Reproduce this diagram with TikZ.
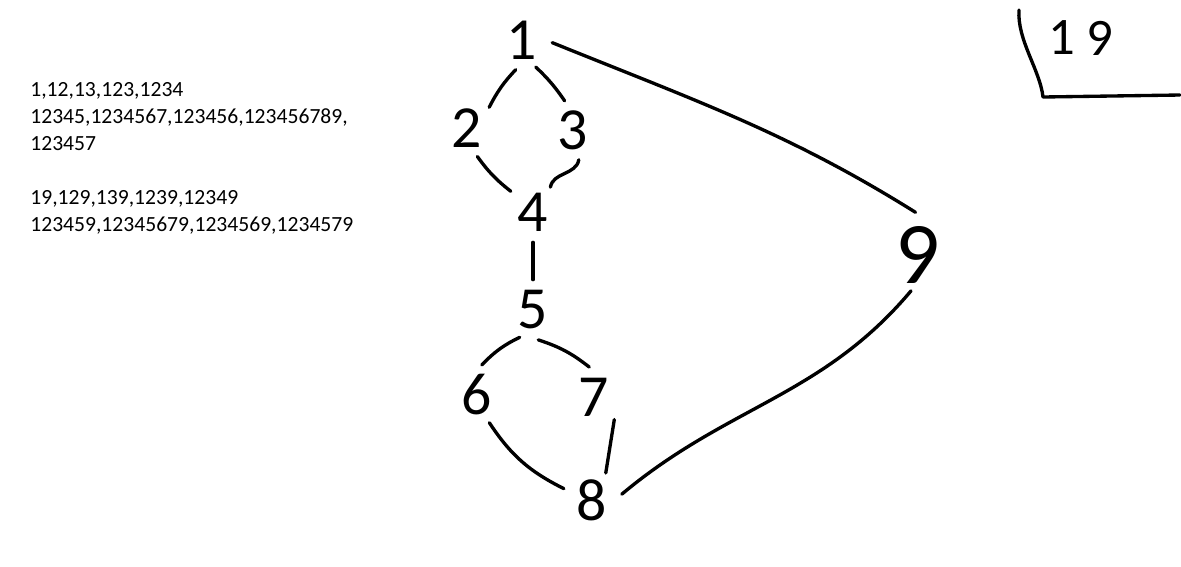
\documentclass[tikz,border=0pt]{standalone}
\usepackage{fontspec}
\setmainfont{Carlito}

\begin{document}
\begin{tikzpicture}[x=0.02cm, y=-0.02cm,
  digit/.style={circle, minimum size=1.2cm, inner sep=0pt, font=\fontsize{34}{34}\selectfont},
  link/.style={line width=1.9pt, line cap=round, line join=round}]
  \useasboundingbox (0,0) rectangle (1181,566);
  \node[digit] (v1) at (522,40) {1};
  \node[digit] (v2) at (467,128) {2};
  \node[digit] (v3) at (573,130) {3};
  \node[digit] (v4) at (533,212) {4};
  \node[digit] (v5) at (533,310) {5};
  \node[digit] (v6) at (477,395) {6};
  \node[digit] (v7) at (594,397) {7};
  \node[digit] (v8) at (592,500) {8};
  \node[digit, font=\fontsize{50}{50}\selectfont] (v9) at (918,255) {9};
  \node[digit, font=\fontsize{30}{30}\selectfont] (c1) at (1062,38) {1};
  \node[digit, font=\fontsize{30}{30}\selectfont] (c9) at (1100,38) {9};
  \node[anchor=north west, align=left, inner sep=0pt, font=\fontsize{12.3}{15.4}\selectfont] (list) at (30,82)
    {1,12,13,123,1234\\
     12345,1234567,123456,123456789,\\
     123457\\
     \mbox{}\\
     19,129,139,1239,12349\\
     123459,12345679,1234569,1234579};
  \draw[link] (v1.-102) to[bend right=8] (v2.43);
  \draw[link] (v1.-63) to[bend left=6] (v3.106);
  \draw[link] (v2.-70) to[bend right=8] (v4.137);
  \draw[link] (v3.-79) to[out=-100, in=80] (v4.55);
  \draw[link] (v4.south) -- (v5.north);
  \draw[link] (v5.-116) to[bend right=10] (v6.81);
  \draw[link] (v5.-80) to[bend left=10] (v7.99);
  \draw[link] (v6.-66) to[bend right=15] (v8.158);
  \draw[link] (v7.-48) -- (v8.63);
  \draw[link] (v8.11) to[out=40, in=-130] (v9.-101);
  \draw[link, shorten >=8pt] (v1.-5) to[out=-22, in=148] (v9.75);
  % corner mark
  \coordinate (k1) at (1019,10);
  \coordinate (k2) at (1043,97);
  \coordinate (k3) at (1180,95);
  \draw[link] (k1) .. controls (1017,40) and (1040,70) .. (k2) -- (k3);
\end{tikzpicture}
\end{document}
